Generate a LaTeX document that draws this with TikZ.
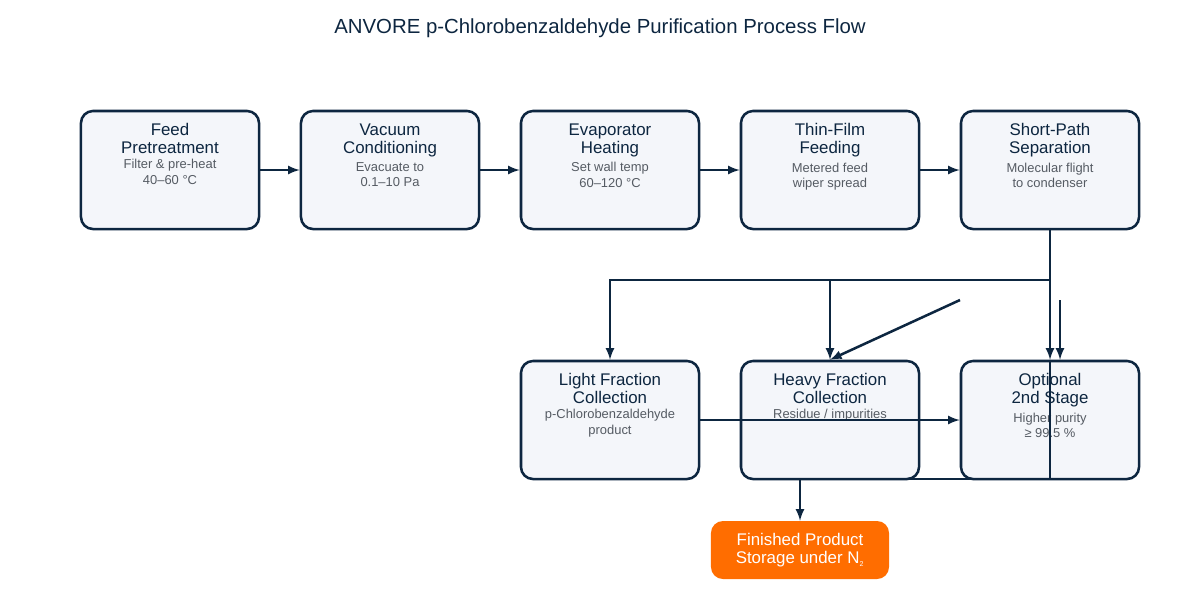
\documentclass[tikz,border=0pt]{standalone}
\usepackage{fontspec}
\setmainfont{Liberation Sans}
\usetikzlibrary{arrows,positioning}
\definecolor{navy}{HTML}{0D2640}
\definecolor{boxfill}{HTML}{F4F6FA}
\definecolor{subgray}{HTML}{555B63}
\definecolor{finish}{HTML}{FF6D00}
\newcommand{\step}[4]{%
  \node[box] (#1) at (#2) {};
  \node[head, below=0.3cm of #1.north] (#1h) {#3};
  \node[sub, below=0.05cm of #1h] (#1s) {#4};
}
\begin{document}
\begin{tikzpicture}[x=0.025cm,y=-0.025cm,>=latex,
box/.style={draw=navy,line width=1.8pt,fill=boxfill,rounded corners=0.3cm,
  minimum width=4.45cm,minimum height=2.95cm,inner sep=0pt},
head/.style={text=navy,font=\fontsize{12}{13}\selectfont,align=center,inner sep=1pt},
sub/.style={text=subgray,font=\fontsize{9.2}{11}\selectfont,align=center,inner sep=1pt},
flow/.style={draw=navy,line width=1.8pt}]
\useasboundingbox (0,0) rectangle (1200,600);
\node[text=navy,font=\fontsize{14.5}{16}\selectfont] (title) at (600,28) {ANVORE p-Chlorobenzaldehyde Purification Process Flow};
% top row
\step{feed}{170,170}{Feed\\Pretreatment}{Filter \& pre-heat\\40–60 °C}
\step{vac}{390,170}{Vacuum\\Conditioning}{Evacuate to\\0.1–10 Pa}
\step{evap}{610,170}{Evaporator\\Heating}{Set wall temp\\60–120 °C}
\step{film}{830,170}{Thin-Film\\Feeding}{Metered feed\\wiper spread}
\step{sep}{1050,170}{Short-Path\\Separation}{Molecular flight\\to condenser}
% bottom row
\step{light}{610,420}{Light Fraction\\Collection}{p-Chlorobenzaldehyde\\product}
\step{heavy}{830,420}{Heavy Fraction\\Collection}{Residue / impurities}
\step{opt}{1050,420}{Optional\\2nd Stage}{Higher purity\\≥ 99.5 \%}
\node[fill=finish,rounded corners=0.3cm,minimum width=4.45cm,minimum height=1.45cm,
  text=white,font=\fontsize{12}{13}\selectfont,align=center] (store) at (800,550)
  {Finished Product\\Storage under N\textsubscript{\tiny 2}};
% connectors
\coordinate (split) at (1050,280);
\coordinate (dfrom) at (960,300);
\coordinate (vfrom) at (1060,300);
\coordinate (merge) at (1050,479);
\foreach \a/\b in {feed/vac,vac/evap,evap/film,film/sep}
  \draw[flow,->] (\a) -- (\b);
\draw[flow,->] (sep.south) -- (split) -| (light.north);
\draw[flow,->] (heavy.north |- split) -- (heavy.north);
\draw[flow,->] (split) -- (opt.north);
\draw[flow,->] (dfrom) -- (heavy.north);
\draw[flow,->] (vfrom) -- (vfrom |- opt.north);
\draw[flow,->] (light.east) -- (opt.west |- light.east);
\draw[flow,->] (opt.north) -- (merge) -| (store.north);
\end{tikzpicture}
\end{document}
